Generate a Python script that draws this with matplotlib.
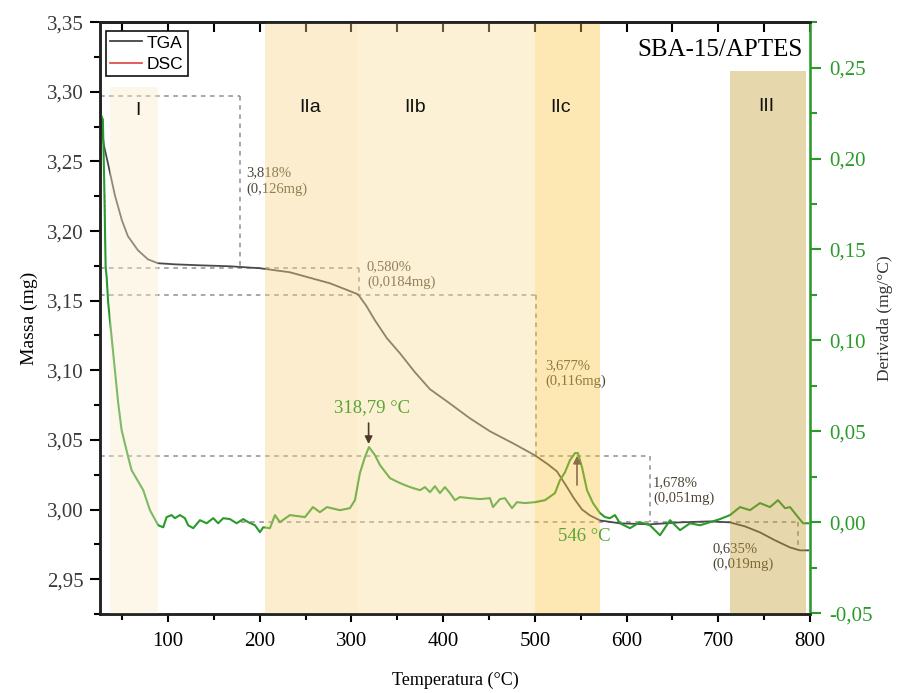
import matplotlib
matplotlib.use('Agg')
import matplotlib.pyplot as plt
from matplotlib.ticker import MultipleLocator, FuncFormatter
from matplotlib.lines import Line2D

plt.rcParams['font.family'] = ['Liberation Serif', 'DejaVu Serif']

# TGA curve: temperature (C) and mass (mg)
tga_temp = [26.4, 27.5, 30.2, 34.6, 42.2, 49.8, 56.4, 67.3, 78.2, 89.1, 107.6, 134.9,
            167.6, 200.3, 233.0, 276.6, 307.2, 315.9, 325.7, 338.8, 353.0, 369.3, 385.7,
            404.2, 429.3, 451.1, 476.2, 500.2, 514.3, 524.1, 533.9, 542.7, 551.4, 560.1,
            571.0, 592.8, 625.5, 658.3, 691.0, 712.8, 729.2, 745.5, 761.9, 778.2, 789.1, 797.9]
tga_mass = [3.2976, 3.2760, 3.2616, 3.2487, 3.2257, 3.2078, 3.1963, 3.1862, 3.1797, 3.1769,
            3.1761, 3.1754, 3.1747, 3.1733, 3.1704, 3.1625, 3.1546, 3.1467, 3.1359, 3.1230,
            3.1122, 3.0986, 3.0864, 3.0777, 3.0655, 3.0562, 3.0476, 3.0389, 3.0325, 3.0274,
            3.0174, 3.0080, 3.0001, 2.9958, 2.9922, 2.9901, 2.9894, 2.9908, 2.9915, 2.9908,
            2.9879, 2.9836, 2.9779, 2.9728, 2.9707, 2.9707]

# derivative curve (mg/C)
dtg_temp = [26.9, 29.1, 30.5, 32.1, 33.2, 34.9, 38.6, 42.2, 45.8, 49.5, 56.7, 60.4, 73.1,
            80.4, 89.4, 94.9, 98.6, 104.0, 107.6, 113.1, 118.5, 122.1, 127.6, 134.9, 142.2,
            149.4, 154.8, 160.3, 167.6, 174.9, 182.1, 187.6, 194.9, 200.3, 203.9, 211.2,
            216.7, 222.1, 233.0, 249.4, 258.1, 265.7, 273.4, 287.5, 298.4, 303.9, 309.3,
            314.8, 319.2, 325.7, 331.2, 342.1, 353.0, 363.9, 374.8, 380.2, 385.7, 391.1,
            396.6, 402.0, 407.5, 412.9, 418.4, 429.3, 440.2, 451.1, 454.4, 462.0, 467.4,
            475.1, 480.5, 489.3, 500.2, 511.1, 522.0, 527.4, 532.9, 538.3, 543.8, 547.0,
            551.4, 556.9, 563.4, 571.0, 576.5, 581.9, 587.4, 592.8, 603.7, 614.6, 625.5,
            636.5, 647.4, 658.3, 669.2, 680.1, 691.0, 701.9, 712.8, 723.7, 734.6, 745.5,
            756.4, 765.1, 772.8, 778.2, 786.9, 792.4, 797.9]
dtg_val = [0.2241, 0.2214, 0.1883, 0.1404, 0.1349, 0.1206, 0.1019, 0.0837, 0.0655, 0.0507,
           0.0358, 0.0286, 0.0176, 0.0066, -0.0017, -0.0028, 0.0028, 0.0039, 0.0022, 0.0039,
           0.0022, -0.0017, -0.0033, 0.0011, -0.0006, 0.0022, -0.0006, 0.0022, 0.0017,
           -0.0006, 0.0017, 0.0000, -0.0017, -0.0055, -0.0028, -0.0033, 0.0039, 0.0000,
           0.0039, 0.0028, 0.0083, 0.0055, 0.0083, 0.0066, 0.0077, 0.0121, 0.0270, 0.0358,
           0.0413, 0.0369, 0.0314, 0.0242, 0.0215, 0.0193, 0.0176, 0.0193, 0.0165, 0.0198,
           0.0160, 0.0193, 0.0160, 0.0121, 0.0138, 0.0132, 0.0127, 0.0132, 0.0083, 0.0127,
           0.0132, 0.0077, 0.0110, 0.0105, 0.0110, 0.0121, 0.0160, 0.0231, 0.0275, 0.0341,
           0.0380, 0.0380, 0.0303, 0.0176, 0.0105, 0.0050, 0.0028, 0.0022, 0.0039, -0.0006,
           -0.0033, 0.0000, -0.0017, -0.0072, 0.0011, -0.0044, -0.0006, -0.0017, 0.0000,
           0.0017, 0.0039, 0.0083, 0.0066, 0.0105, 0.0083, 0.0121, 0.0077, 0.0083, 0.0028,
           -0.0006, -0.0006]

# the only visible bit of the DSC trace
dsc_temp = [31.0, 31.3, 31.6]
dsc_mass = [3.226, 3.207, 3.190]

# decomposition regions
region_names = ['I', 'IIa', 'IIb', 'IIc', 'III']
region_start = [36.8, 205.8, 307.2, 500.2, 712.8]
region_end = [89.1, 307.2, 500.2, 571.0, 795.7]

# mass loss steps
step_temp = [178.5, 308.0, 501.0, 625.5, 786.5]
step_level = [3.2968, 3.1733, 3.1539, 3.0382, 2.9908, 2.9721]
step_pct = ['3,818%', '0,580%', '3,677%', '1,678%', '0,635%']
step_mg = ['(0,126mg)', '(0,0184mg)', '(0,116mg)', '(0,051mg)', '(0,019mg)']

# DTG peaks
peak_temp = [318.79, 546]
peak_label = ['318,79 °C', '546 °C']

# layout / styling
region_colors = ['#fcebc8', '#f7d482', '#fadc96', '#fac543', '#c59d34']
region_top = [0.890, 1.0, 1.0, 1.0, 0.917]
region_label_x = [67.3, 254.8, 369.3, 528.5, 752.0]
region_label_y = [0.851, 0.855, 0.855, 0.855, 0.858]
step_from = [26, 26, 26, 26, 180]
note_pos = [(185.0, 3.2358), (317.0, 3.1690), (511.1, 3.0978), (628.8, 3.0138), (693.2, 2.9664)]
peak_text_pos = [(322.4, 0.0628), (553.6, -0.0077)]
arrow_from = [0.0545, 0.0204]
arrow_to = [0.0430, 0.0365]
arrow_colors = ['#4a3c28', '#8a6e4a']

green = '#2a9a2a'
comma = FuncFormatter(lambda v, p: f'{v:.2f}'.replace('.', ','))

fig = plt.figure(figsize=(8.98, 6.93), dpi=100)
fig.subplots_adjust(left=0.1114, right=0.902, bottom=0.114, top=0.968)
ax = fig.add_subplot(111)
ax2 = ax.twinx()

# mass axis
ax.plot(tga_temp, tga_mass, color='#4a4a4a', lw=1.3, zorder=2)
ax.plot(dsc_temp, dsc_mass, color='#e04040', lw=1.0, ls=(0, (2, 1.5)), zorder=2)
for i in range(len(step_temp)):
    ax.plot([step_from[i], step_temp[i]], [step_level[i], step_level[i]],
            color='#8f8f8f', lw=1.1, ls=(0, (3, 3)), zorder=1.5)
    ax.plot([step_temp[i], step_temp[i]], [step_level[i], step_level[i + 1]],
            color='#8f8f8f', lw=1.1, ls=(0, (3, 3)), zorder=1.5)
    ax.text(note_pos[i][0], note_pos[i][1], step_pct[i] + '\n' + step_mg[i],
            fontsize=10.5, color='#4d4535', ha='left', va='center', linespacing=1.25)

ax.set_xlim(26, 800)
ax.set_ylim(2.925, 3.35)
ax.xaxis.set_major_locator(MultipleLocator(100))
ax.xaxis.set_minor_locator(MultipleLocator(50))
ax.yaxis.set_major_locator(MultipleLocator(0.05))
ax.yaxis.set_minor_locator(MultipleLocator(0.025))
ax.yaxis.set_major_formatter(comma)
ax.tick_params(axis='x', which='major', direction='out', length=6, width=1.5, labelsize=15, pad=7)
ax.tick_params(axis='x', which='minor', direction='out', length=4, width=1.5)
ax.tick_params(axis='y', which='major', direction='out', length=7, width=1.5, labelsize=15,
               labelcolor='#3a3a3a', pad=5)
ax.tick_params(axis='y', which='minor', direction='out', length=4, width=1.5)
ax.set_xlabel('Temperatura (°C)', fontsize=13, labelpad=15)
ax.set_ylabel('Massa (mg)', fontsize=14, labelpad=6)
for s in ['left', 'bottom', 'top']:
    ax.spines[s].set_linewidth(1.8)
    ax.spines[s].set_color('#222222')

top = ax.secondary_xaxis('top')
top.xaxis.set_major_locator(MultipleLocator(100))
top.xaxis.set_minor_locator(MultipleLocator(50))
top.tick_params(axis='x', which='both', direction='in', length=7, width=1.5, labeltop=False)
top.spines['top'].set_linewidth(1.8)

# derivative axis
ax2.plot(dtg_temp, dtg_val, color=green, lw=1.5, zorder=2)
ax2.set_ylim(-0.0505, 0.275)
ax2.yaxis.set_major_locator(MultipleLocator(0.05))
ax2.yaxis.set_minor_locator(MultipleLocator(0.025))
ax2.yaxis.set_major_formatter(comma)
ax2.tick_params(axis='y', which='major', direction='out', length=8, width=1.5, colors=green,
                labelsize=15, pad=6)
ax2.tick_params(axis='y', which='minor', direction='out', length=5, width=1.5, colors=green)
ax2.spines['right'].set_color(green)
ax2.spines['right'].set_linewidth(1.8)
for s in ['left', 'bottom', 'top']:
    ax2.spines[s].set_linewidth(1.8)
    ax2.spines[s].set_color('#222222')
ax2.set_ylabel('Derivada (mg/°C)', fontsize=12.5, labelpad=3, color='#333333')

# shaded regions sit over the curves, as in the original
xt = ax2.get_xaxis_transform()
for i, name in enumerate(region_names):
    ax2.axvspan(region_start[i], region_end[i], ymin=0, ymax=region_top[i],
                color=region_colors[i], alpha=0.4, lw=0, zorder=2.2)
    ax2.text(region_label_x[i], region_label_y[i], name,
             transform=xt, fontsize=14, family='Liberation Sans', color='#111111',
             ha='center', va='center', zorder=3)

for i in range(len(peak_temp)):
    ax2.annotate('', xy=(peak_temp[i], arrow_to[i]), xytext=(peak_temp[i], arrow_from[i]),
                 arrowprops=dict(arrowstyle='-|>', color=arrow_colors[i], lw=1.2,
                                 mutation_scale=11, shrinkA=0, shrinkB=0), zorder=3)
    ax2.text(peak_text_pos[i][0], peak_text_pos[i][1], peak_label[i], fontsize=13.5,
             color='#5aa535', ha='center', va='center', zorder=3)

ax2.text(0.990, 0.953, 'SBA-15/APTES', transform=ax2.transAxes, fontsize=18,
         ha='right', va='center', zorder=4)

handles = [Line2D([], [], color='#333333', lw=1.2), Line2D([], [], color='#e04040', lw=1.2)]
leg = ax2.legend(handles, ['TGA', 'DSC'], loc='upper left', bbox_to_anchor=(0.0085, 0.985),
                 borderaxespad=0, fancybox=False, framealpha=1, edgecolor='#111111',
                 prop={'family': 'Liberation Sans', 'size': 12.5}, handlelength=1.8,
                 handletextpad=0.3, borderpad=0.25, labelspacing=0.35)
leg.get_frame().set_linewidth(1.2)
leg.set_zorder(5)

fig.savefig('out.png', dpi=100)
